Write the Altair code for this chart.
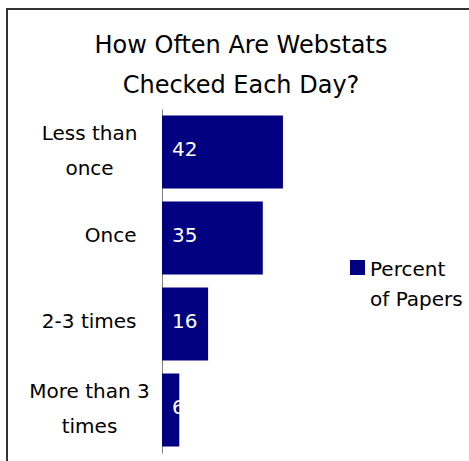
import altair as alt
import pandas as pd

# Data
categories = ["Less than|once", "Once", "2-3 times", "More than 3|times"]
values = [42, 35, 16, 6]
series_lines = ["Percent", "of Papers"]
series_name = " ".join(series_lines)
title_lines = ["How Often Are Webstats", "Checked Each Day?"]

FONT = "DejaVu Sans"
NAVY = "#000080"

df = pd.DataFrame({"category": categories, "value": values, "series": series_name})

W = 144
H = 344

base = alt.Chart(df)

multi = "indexof(datum.value, '|') >= 0"

bars = base.mark_bar(color=NAVY).encode(
    y=alt.Y(
        "category:N",
        sort=categories,
        title=None,
        scale=alt.Scale(paddingInner=0.15, paddingOuter=0.075),
        axis=alt.Axis(
            labelExpr="split(datum.label, '|')",
            labelAlign=alt.condition(multi, alt.value("center"), alt.value("right")),
            labelPadding=alt.condition(multi, alt.value(73), alt.value(26)),
            labelOffset=alt.condition(multi, alt.value(-18), alt.value(-2)),
            labelFontSize=20,
            labelFont=FONT,
            labelColor="#000000",
            labelLineHeight=35,
            labelLimit=300,
            ticks=False,
            domainColor="#808080",
            domainWidth=1,
            grid=False,
        ),
    ),
    x=alt.X("value:Q", scale=alt.Scale(domain=[0, 50]), axis=None),
    color=alt.Color(
        "series:N",
        scale=alt.Scale(range=[NAVY]),
        legend=alt.Legend(
            title=series_lines,
            titleOrient="right",
            titleFont=FONT,
            titleFontSize=20,
            titleFontWeight="normal",
            titleColor="#000000",
            titleLineHeight=30,
            titleBaseline="top",
            titleAnchor="start",
            titlePadding=5,
            orient="none",
            legendX=188,
            legendY=151,
            symbolType="square",
            symbolSize=225,
            symbolStrokeWidth=0,
            labelExpr="''",
            labelOffset=0,
            labelLimit=1,
        ),
    ),
)

labels = base.mark_text(
    align="left", baseline="middle", dx=10, dy=-2, color="white", fontSize=20, font=FONT
).encode(
    y=alt.Y("category:N", sort=categories),
    x=alt.value(0),
    text=alt.Text("value:Q"),
)

frame = alt.Chart(pd.DataFrame({"f": [0]})).mark_rect(
    fill=None, stroke="#333333", strokeWidth=2
).encode(
    x=alt.value(-155), x2=alt.value(312),
    y=alt.value(-100), y2=alt.value(380),
)

chart = alt.layer(frame, bars, labels).properties(
    width=W,
    height=H,
    background="white",
    padding={"left": 162, "top": 109, "right": 163, "bottom": 8},
    autosize=alt.AutoSizeParams(type="none"),
    title=alt.TitleParams(
        text=title_lines,
        font=FONT,
        fontSize=24,
        fontWeight="normal",
        lineHeight=40,
        anchor="middle",
        frame="group",
        dx=7,
        offset=-90,
        color="#000000",
    ),
).configure_view(strokeWidth=0, stroke="transparent")

chart.save("out.html", embed_options={"renderer": "svg", "actions": False})
